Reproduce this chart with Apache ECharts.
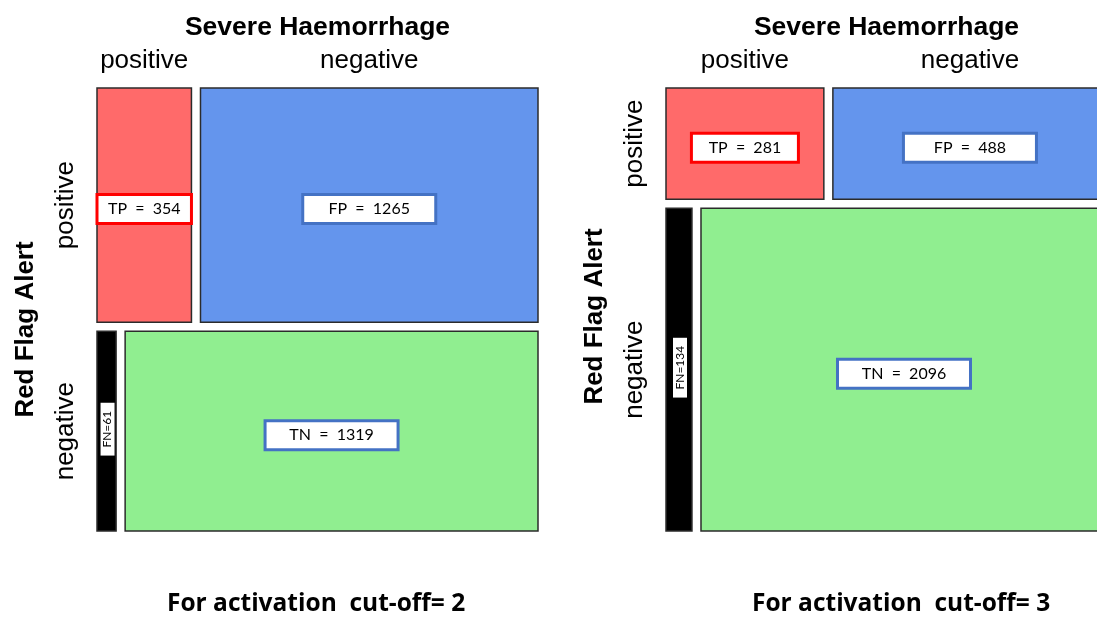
<!DOCTYPE html>
<html>
<head>
<meta charset="utf-8">
<script src="https://cdn.jsdelivr.net/npm/echarts@6/dist/echarts.min.js"></script>
<style>
html, body { margin: 0; padding: 0; background: #fff; }
#main { width: 1097px; height: 617px; }
</style>
</head>
<body>
<div id="main"></div>
<script>
// 2x2 tables: rows = red flag alert (positive, negative), cols = severe haemorrhage (positive, negative)
var rowNames = ['positive', 'negative'];
var colNames = ['positive', 'negative'];
var cellTags = [['TP', 'FP'], ['FN', 'TN']];
var cutoff2 = [[354, 1265], [61, 1319]];
var cutoff3 = [[281, 488], [134, 2096]];
var cutoffs = ['2', '3'];

var cellColors = [['#FF6A6A', '#6495ED'], ['#000000', '#90EE90']];
var boxColors = [['#FF0000', '#4472C4'], ['#000000', '#4472C4']];
var uiFont = 'Lato';
var headFont = '"Liberation Sans", Arial, sans-serif';

// mosaic layout in unit square, gap between tiles is g
function buildCells(counts) {
    var g = 0.0205;
    var total = 0;
    counts.forEach(function(row) { total += row[0] + row[1]; });
    var cells = [];
    var yAcc = 0;
    counts.forEach(function(row, r) {
        var rowSum = row[0] + row[1];
        var h = rowSum / total * (1 - g);
        var y0 = yAcc + (r ? g : 0);
        var xAcc = 0;
        row.forEach(function(v, c) {
            var w = v / rowSum * (1 - g);
            var x0 = xAcc + (c ? g : 0);
            cells.push([x0, x0 + w, y0, y0 + h, v, r, c]);
            xAcc += w;
        });
        yAcc += h;
    });
    return cells;
}

function renderCell(params, api) {
    var r = api.value(5), c = api.value(6), n = api.value(4);
    var p0 = api.coord([api.value(0), api.value(2)]);
    var p1 = api.coord([api.value(1), api.value(3)]);
    var left = Math.min(p0[0], p1[0]), top = Math.min(p0[1], p1[1]);
    var w = Math.abs(p1[0] - p0[0]), h = Math.abs(p1[1] - p0[1]);
    var cx = left + w / 2, cy = top + h / 2;
    var tag = cellTags[r][c];
    var kids = [{
        type: 'rect',
        shape: { x: left, y: top, width: w, height: h },
        style: { fill: cellColors[r][c], stroke: '#2b2b2b', lineWidth: 1.5 }
    }];
    if (tag == 'FN') {
        kids.push({
            type: 'text', x: cx + 1, y: cy - 2, rotation: Math.PI / 2,
            style: {
                text: 'FN=' + n, align: 'center', verticalAlign: 'middle',
                fontFamily: uiFont, fontSize: 12, fill: '#000',
                backgroundColor: '#fff', padding: [1, 8]
            }
        });
    } else {
        var bw = tag == 'TP' ? Math.min(100, w - 7) : 126;
        kids.push({
            type: 'text', x: cx, y: cy + 4,
            style: {
                text: tag + '  =  ' + n, align: 'center', verticalAlign: 'middle',
                fontFamily: uiFont, fontSize: 16, fill: '#000',
                backgroundColor: '#fff', borderColor: boxColors[r][c], borderWidth: 3,
                width: bw, padding: [5, 2]
            }
        });
    }
    if (r == 0) {
        kids.push({
            type: 'text', x: cx, y: top - 27,
            style: { text: colNames[c], align: 'center', verticalAlign: 'middle', fontFamily: headFont, fontSize: 26, fill: '#000' }
        });
    }
    if (c == 0) {
        kids.push({
            type: 'text', x: left - 31, y: cy, rotation: Math.PI / 2,
            style: { text: rowNames[r], align: 'center', verticalAlign: 'middle', fontFamily: headFont, fontSize: 26, fill: '#000' }
        });
    }
    return { type: 'group', children: kids };
}

var myChart = echarts.init(document.getElementById('main'));
var panelLeft = [97, 666];
var tables = [cutoff2, cutoff3];

var option = {
    backgroundColor: '#fff',
    animation: false,
    title: cutoffs.map(function(k, i) {
        return {
            text: 'For activation  cut-off= ' + k,
            left: [162, 747][i], top: 587,
            textStyle: { fontFamily: '"Open Sans"', fontWeight: 'bold', fontSize: 24.5, color: '#000' }
        };
    }),
    grid: panelLeft.map(function(l) {
        return { left: l, top: 88, width: 441, height: 443, outerBoundsMode: 'none', containLabel: false };
    }),
    xAxis: panelLeft.map(function(l, i) {
        return {
            type: 'value', gridIndex: i, min: 0, max: 1, position: 'top',
            name: 'Severe Haemorrhage', nameLocation: 'middle', nameGap: 47,
            nameTextStyle: { fontFamily: headFont, fontWeight: 'bold', fontSize: 26.5, color: '#000' },
            axisLine: { show: false }, axisTick: { show: false }, axisLabel: { show: false }, splitLine: { show: false }
        };
    }),
    yAxis: panelLeft.map(function(l, i) {
        return {
            type: 'value', gridIndex: i, min: 0, max: 1, inverse: true,
            name: 'Red Flag Alert', nameLocation: 'middle', nameGap: 58,
            nameTextStyle: {
                fontFamily: headFont, fontWeight: 'bold', fontSize: 26, color: '#000',
                padding: [0, [40, 14][i], 0, 0]
            },
            axisLine: { show: false }, axisTick: { show: false }, axisLabel: { show: false }, splitLine: { show: false }
        };
    }),
    series: tables.map(function(t, i) {
        return {
            type: 'custom',
            xAxisIndex: i, yAxisIndex: i,
            renderItem: renderCell,
            encode: { x: [0, 1], y: [2, 3] },
            data: buildCells(t)
        };
    })
};

myChart.setOption(option);
</script>
</body>
</html>
